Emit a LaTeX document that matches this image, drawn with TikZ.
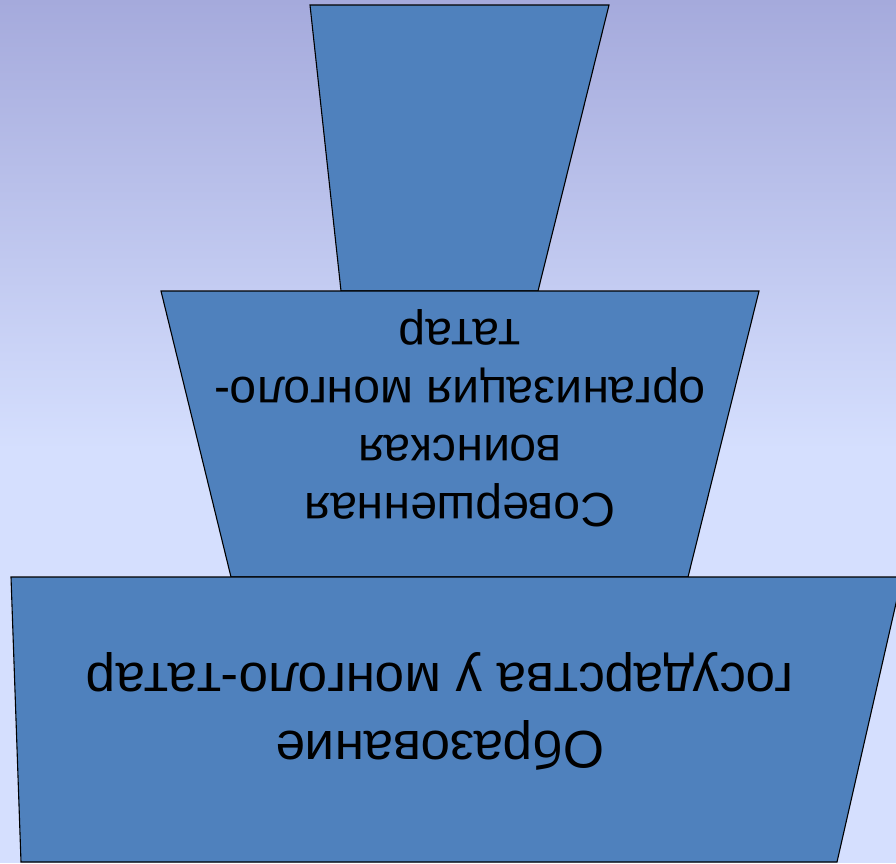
\documentclass[tikz,border=0pt]{standalone}
\usepackage{fontspec}
\setmainfont{Liberation Sans}
\definecolor{bgtop}{RGB}{165,170,220}
\definecolor{bgbot}{RGB}{213,223,254}
\definecolor{boxfill}{RGB}{79,129,189}
\tikzset{
  tier/.style={fill=boxfill, draw=black, line width=1.1pt, line join=miter},
  uptext/.style={rotate=180, align=center, text=black, inner sep=0pt},
}
\begin{document}
\begin{tikzpicture}[x=1pt,y=-1pt]
\useasboundingbox (0,0) rectangle (896,863);
\clip (0,0) rectangle (896,863);
\fill[bgbot] (0,0) rectangle (896,863);
\shade[top color=bgtop, bottom color=bgbot] (0,0) rectangle (896,450);
% top tier
\draw[tier] (310,5) -- (609,5) -- (538,291) -- (341,291) -- cycle;
% middle tier
\draw[tier] (161,291) -- (759,291) -- (688,577) -- (231,577) -- cycle;
% bottom tier
\draw[tier] (11,577) -- (902,577) -- (837,862) -- (21,862) -- cycle;
\node[uptext, font=\fontsize{48}{58}\selectfont] (mid) at (460,418)
  {Совершенная\\воинская\\организация монголо-\\татар};
\node[uptext, font=\fontsize{53}{68}\selectfont] (bot) at (440,711)
  {Образование\\государства у монголо-татар};
\end{tikzpicture}
\end{document}
